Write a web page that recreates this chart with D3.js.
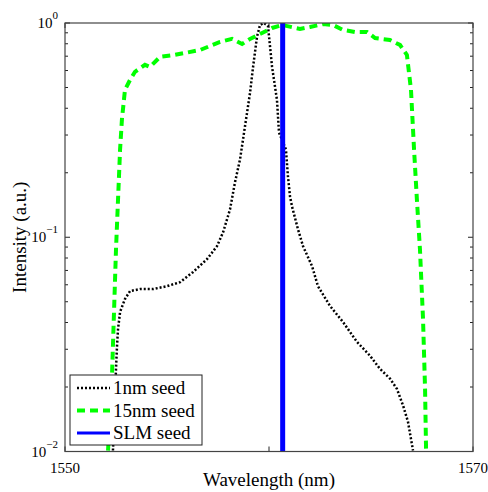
<!DOCTYPE html>
<html>
<head>
    <meta charset="UTF-8">
    <title></title>
    <script src="https://cdn.jsdelivr.net/npm/d3@7"></script>
    <style>
        svg text, svg tspan{font-family:"Liberation Serif",Tinos,serif !important;}
    </style>
</head>
<body style="margin:0">
<script>
    // 1nm seed (dotted black)
    var seed1Wl=[1552.35,1552.45,1552.50,1552.55,1552.60,1552.70,1552.94,1553.19,1553.68,1554.31,1555.00,1555.64,1556.27,1556.96,1557.45,1557.75,1558.09,1558.33,1558.58,1558.82,1559.07,1559.22,1559.41,1559.56,1559.75,1559.95,1560.15,1560.39,1560.49,1560.83,1560.93,1561.03,1561.13,1561.42,1561.67,1562.11,1562.40,1562.99,1563.63,1564.31,1564.95,1565.44,1565.93,1566.27,1566.57,1566.81,1567.06];
    var seed1Int=[0.0101,0.0177,0.0243,0.0311,0.0373,0.0448,0.0515,0.0561,0.0573,0.0573,0.0591,0.0617,0.0687,0.079,0.0908,0.1055,0.135,0.18,0.231,0.328,0.472,0.624,0.861,0.98,1.0,0.97,0.624,0.438,0.308,0.257,0.192,0.155,0.139,0.109,0.0908,0.0733,0.0591,0.0478,0.0402,0.0325,0.028,0.0243,0.0219,0.0196,0.0164,0.0138,0.0101];
    // 15nm seed (dashed green)
    var seed15Wl=[1552.11,1552.30,1552.35,1552.50,1552.70,1552.79,1552.94,1553.19,1553.43,1553.92,1554.17,1554.66,1555.39,1556.62,1557.60,1558.19,1558.68,1559.07,1559.66,1560.15,1560.64,1561.52,1562.01,1562.65,1563.14,1563.63,1564.22,1564.80,1565.20,1565.93,1566.42,1566.76,1566.96,1567.11,1567.25,1567.40,1567.55,1567.65,1567.70];
    var seed15Int=[0.0101,0.0219,0.0311,0.0879,0.257,0.354,0.488,0.543,0.592,0.638,0.624,0.695,0.71,0.748,0.816,0.843,0.798,0.843,0.898,0.948,0.979,0.938,0.958,0.989,0.979,0.928,0.908,0.908,0.851,0.833,0.79,0.71,0.488,0.257,0.15,0.0879,0.0416,0.0196,0.0101];
    // SLM seed (solid blue)
    var slmWl=[1560.67,1560.67];
    var slmInt=[1,0.01];

    var seriesNames=["1nm seed","15nm seed","SLM seed"];
    var xTicks=[1550,1560,1570];
    var xTickLabels=["1550","","1570"];
    var yTicks=[1,0.1,0.01];
    var yTickExp=["0","\u22121","\u22122"];

    var W=488,H=492;
    var m={left:65,top:23,right:473,bottom:451.5};

    var _x=d3.scaleLinear().domain([1550,1570]).range([m.left,m.right]);
    var _y=d3.scaleLog().domain([0.01,1]).range([m.bottom,m.top]);

    var _svg=d3.select("body").append("svg")
            .attr("width",W).attr("height",H);

    _svg.append("defs").append("clipPath").attr("id","clip")
            .append("rect")
            .attr("x",m.left).attr("y",m.top)
            .attr("width",m.right-m.left).attr("height",m.bottom-m.top);

    // minor + major ticks on left/right (inside)
    var minor=[];
    [0.01,0.1].forEach(function(d){
        for(var k=2;k<=9;k++) minor.push(d*k);
    });
    var tickG=_svg.append("g").attr("stroke","#222").attr("stroke-width",1);
    minor.forEach(function(v){
        tickG.append("line").attr("x1",m.left).attr("x2",m.left+3).attr("y1",_y(v)).attr("y2",_y(v));
        tickG.append("line").attr("x1",m.right).attr("x2",m.right-3).attr("y1",_y(v)).attr("y2",_y(v));
    });
    yTicks.forEach(function(v){
        tickG.append("line").attr("x1",m.left).attr("x2",m.left+5).attr("y1",_y(v)).attr("y2",_y(v));
        tickG.append("line").attr("x1",m.right).attr("x2",m.right-5).attr("y1",_y(v)).attr("y2",_y(v));
    });
    xTicks.forEach(function(v){
        tickG.append("line").attr("x1",_x(v)).attr("x2",_x(v)).attr("y1",m.bottom).attr("y2",m.bottom-5);
        tickG.append("line").attr("x1",_x(v)).attr("x2",_x(v)).attr("y1",m.top).attr("y2",m.top+5);
    });

    var _line=function(xs,ys){
        return d3.line()
                .x(function(d,i){return _x(xs[i]);})
                .y(function(d,i){return _y(ys[i]);})(xs);
    };

    var plot=_svg.append("g").attr("clip-path","url(#clip)");
    plot.append("path")
            .attr("d",_line(seed1Wl,seed1Int))
            .attr("fill","none").attr("stroke","#000")
            .attr("stroke-width",2.5).attr("stroke-dasharray","2,2");
    plot.append("path")
            .attr("d",_line(seed15Wl,seed15Int))
            .attr("fill","none").attr("stroke","#00ff00")
            .attr("stroke-width",4).attr("stroke-dasharray","8,5");
    plot.append("path")
            .attr("d",_line(slmWl,slmInt))
            .attr("fill","none").attr("stroke","#0000ff")
            .attr("stroke-width",5);

    // frame
    _svg.append("rect")
            .attr("x",m.left).attr("y",m.top)
            .attr("width",m.right-m.left).attr("height",m.bottom-m.top)
            .attr("fill","none").attr("stroke","#444").attr("stroke-width",1.2);

    // tick labels
    xTicks.forEach(function(v,i){
        if(!xTickLabels[i]) return;
        _svg.append("text").attr("x",_x(v)).attr("y",m.bottom+21)
                .attr("text-anchor","middle").style("font-size","15px")
                .text(xTickLabels[i]);
    });
    yTicks.forEach(function(v,i){
        var t=_svg.append("text").attr("x",m.left-7).attr("y",_y(v)+5)
                .attr("text-anchor","end").style("font-size","15px");
        t.append("tspan").text("10");
        t.append("tspan").attr("dy",-9).style("font-size","11px").text(yTickExp[i]);
    });

    // axis titles
    _svg.append("text").attr("x",(m.left+m.right)/2).attr("y",486)
            .attr("text-anchor","middle").style("font-size","19px")
            .text("Wavelength (nm)");
    _svg.append("text")
            .attr("transform","translate(26,"+((m.top+m.bottom)/2)+") rotate(-90)")
            .attr("text-anchor","middle").style("font-size","19px")
            .text("Intensity (a.u.)");

    // legend
    var lg=_svg.append("g");
    lg.append("rect").attr("x",70).attr("y",375).attr("width",132).attr("height",70)
            .attr("fill","#fff").attr("stroke","#222").attr("stroke-width",1);
    var lgStyle=[
        {stroke:"#000",w:2.5,dash:"2,2"},
        {stroke:"#00ff00",w:4,dash:"8,5"},
        {stroke:"#0000ff",w:3,dash:null}
    ];
    seriesNames.forEach(function(n,i){
        var yy=388+i*22.5;
        lg.append("line").attr("x1",77).attr("x2",110).attr("y1",yy).attr("y2",yy)
                .attr("stroke",lgStyle[i].stroke).attr("stroke-width",lgStyle[i].w)
                .attr("stroke-dasharray",lgStyle[i].dash);
        lg.append("text").attr("x",113).attr("y",yy+6).style("font-size","19px")
                .text(n);
    });
</script>
</body>
</html>
